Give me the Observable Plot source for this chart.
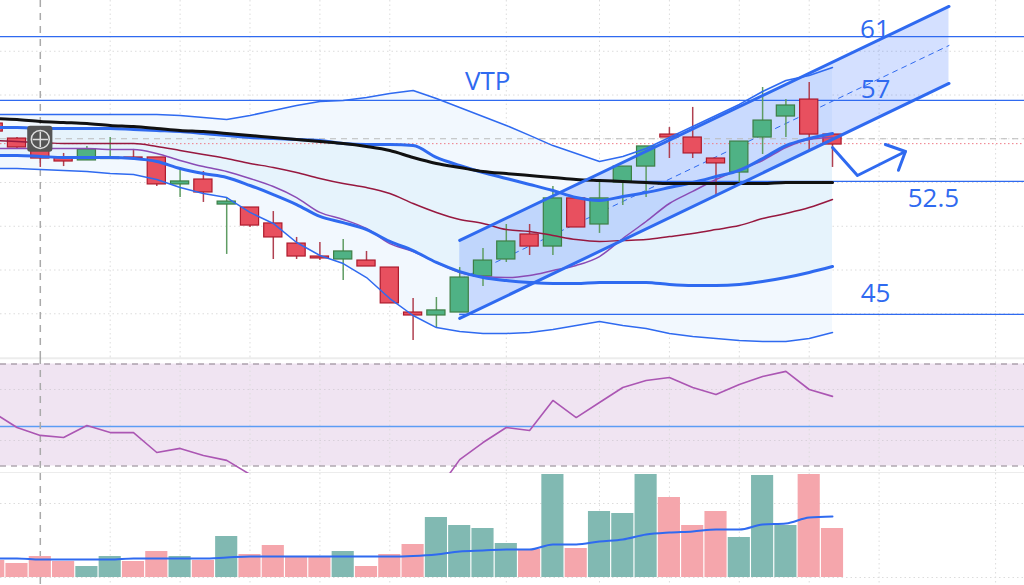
<!DOCTYPE html>
<html><head><meta charset="utf-8">
<script src="https://cdn.jsdelivr.net/npm/d3@7"></script>
<script src="https://cdn.jsdelivr.net/npm/@observablehq/plot@0.6"></script>
<style>html,body{margin:0;padding:0;background:#fff;overflow:hidden}svg{display:block}#c{width:1024px;height:585px}</style>
</head><body><div id="c"></div>
<script>
const idx = d3.range(-1, 36);
const candleOpen  = [55.87,55.01,54.90,53.93,53.76,53.84,53.93,53.93,52.39,52.67,51.24,51.07,50.16,49.01,48.27,48.10,48.04,47.64,45.07,44.90,45.07,47.13,48.10,49.53,48.84,51.59,50.10,52.50,53.41,55.24,55.07,53.87,53.07,55.07,56.27,57.24,55.24];
const candleClose = [55.41,54.50,53.87,53.70,54.39,53.93,53.87,52.39,52.56,51.93,51.41,50.04,49.36,48.27,48.16,48.56,47.70,45.59,44.90,45.19,47.07,48.04,49.13,48.84,51.59,49.93,51.59,53.41,54.56,55.07,54.16,53.59,54.84,56.04,56.90,55.24,54.67];
const candleHigh  = [56.04,55.07,54.90,54.16,54.56,55.07,54.39,53.93,53.30,53.13,51.64,51.07,50.84,49.36,49.07,49.24,48.56,47.64,45.87,45.93,47.64,48.73,50.10,50.10,52.27,51.59,52.56,53.41,54.56,55.64,56.79,53.87,54.84,57.93,57.24,58.21,55.24];
const candleLow   = [55.30,54.44,53.36,53.41,53.76,53.81,53.76,52.27,51.64,51.36,48.39,49.93,48.10,48.10,48.04,46.90,47.70,45.59,43.47,44.21,45.07,46.56,47.93,48.33,48.33,49.93,49.59,51.19,51.64,53.87,53.87,51.70,52.44,54.10,55.07,54.21,53.36];

const bandUpper = [56.39,56.39,56.39,56.39,56.39,56.39,56.39,56.39,56.33,56.21,56.10,56.33,56.61,56.90,57.13,57.19,57.36,57.59,57.76,57.30,56.79,56.27,55.76,55.19,54.61,54.16,53.70,53.99,54.44,55.07,55.70,56.33,56.96,57.70,58.33,58.61,59.07];
const bandLower = [53.30,53.30,53.24,53.19,53.13,53.01,52.96,52.67,52.21,51.87,51.64,50.79,50.16,49.07,48.33,47.87,47.07,45.87,44.90,44.21,43.99,43.87,43.87,43.93,44.10,44.33,44.56,44.33,44.16,43.87,43.70,43.59,43.47,43.41,43.41,43.59,43.93];
const thickUpper = [55.64,55.64,55.59,55.59,55.59,55.59,55.53,55.47,55.41,55.30,55.19,55.07,55.01,54.96,54.90,54.73,54.67,54.67,54.61,53.93,53.47,53.07,52.73,52.39,52.04,51.64,51.47,51.70,51.93,52.21,52.50,52.84,53.19,53.87,54.61,55.01,55.30];
const thickLower = [54.04,54.04,53.99,53.93,53.93,53.93,53.87,53.70,53.30,53.01,52.79,52.33,51.81,51.24,50.56,50.21,49.81,49.13,48.61,47.93,47.41,47.07,46.90,46.79,46.73,46.73,46.79,46.79,46.79,46.67,46.61,46.61,46.67,46.84,47.07,47.36,47.70];
const purpleLine = [54.44,54.44,54.44,54.44,54.44,54.39,54.39,54.16,53.76,53.41,53.13,52.73,52.27,51.64,50.79,50.39,49.87,49.01,48.56,47.93,47.36,47.13,47.07,47.19,47.47,47.76,48.27,49.30,50.27,51.30,51.99,52.67,53.24,53.76,54.50,54.96,55.07];
const crimsonLine = [54.90,54.84,54.79,54.73,54.73,54.73,54.73,54.56,54.33,54.10,53.87,53.59,53.36,53.07,52.73,52.44,52.21,51.87,51.30,50.79,50.39,50.16,49.81,49.70,49.47,49.24,49.13,49.19,49.24,49.41,49.59,49.81,50.04,50.44,50.73,51.07,51.53];
const blackLine = [56.16,56.10,55.99,55.93,55.87,55.76,55.70,55.59,55.47,55.41,55.30,55.19,55.07,54.96,54.84,54.73,54.56,54.33,53.93,53.59,53.36,53.13,53.01,52.90,52.79,52.67,52.61,52.56,52.50,52.44,52.44,52.44,52.44,52.44,52.50,52.50,52.50];

const rsi = [50.9,45.1,42.0,41.2,45.9,43.1,43.1,35.3,36.9,34.1,32.2,26.7,22,20,18,19,18,14,14,19.8,32.5,39.2,45.1,43.9,55.7,49.0,54.9,60.8,63.5,64.7,60.8,58.0,62.0,65.1,67.1,60.0,57.3];
const volume = [170,140,210,160,110,210,160,260,210,170,410,230,320,210,210,260,110,230,330,600,520,490,340,280,1030,290,660,640,1030,800,520,660,400,1020,520,1030,490];
const volumeAvg = [190,190,180,180,180,180,190,190,190,190,200,210,210,210,210,210,210,210,215,230,260,270,280,280,330,330,360,380,430,450,460,480,480,530,540,600,610];

const gridDays = [4,7,10,13,16,21,25,28,31,34,37,42];
const crossDay = 1;
const priceGrid = [45,47.5,50,52.5,55,57.5,60];
const levelRows = [{v:60.84,from:-1,to:44},{v:57.19,from:-1,to:44},{v:52.56,from:25,to:44},{v:44.96,from:19,to:44}];
const labelRows = [{t:"VTP",x:20.2,y:58.27},{t:"61",x:36.82,y:61.24},{t:"57",x:36.85,y:57.81},{t:"52.5",x:39.33,y:51.59},{t:"45",x:36.85,y:46.16}];
const channelX = [19,40];
const channelTop = [49.19,62.56];
const channelBottom = [44.73,58.16];
const channelMid = [46.96,60.33];
const arrowX = [35,36.07,38.13], arrowY = [54.5,52.9,54.27];
const headX = [37.27,38.13,37.83], headY = [54.67,54.27,53.2];
const rsiBand = [30,70], rsiGrid = [40,60], rsiLevel = 45.5;

const colors = {blue:"#2f6af0",green:"#4fb285",greenEdge:"#3d7f45",greenWick:"#5f9c63",red:"#e8505f",redEdge:"#ad1a2c",redWick:"#b04050",
  volGreen:"#81b9b2",volRed:"#f5a6ac",fillLight:"#f2f8fe",fillDark:"#e6f3fc",channel:"#2962ff",grid:"#dcdcdc"};
const xCfg = {domain:[-0.708,43.24],range:[0,1024],axis:null};
const base = {width:1024,margin:0,style:{background:"transparent"}};
const vGrid = Plot.ruleX(gridDays,{stroke:colors.grid,strokeDasharray:"1.5,3",strokeWidth:1});
const cross = Plot.ruleX([crossDay],{stroke:"#aaa",strokeDasharray:"7,6",strokeWidth:1.5});
const smooth = "monotone-x";

const candles = idx.map((i,k)=>({i,o:candleOpen[k],c:candleClose[k],h:candleHigh[k],l:candleLow[k],up:candleClose[k]>candleOpen[k]}));

const main = Plot.plot({...base,height:357,x:xCfg,y:{domain:[62.9,42.5],range:[0,357],axis:null},marks:[
  Plot.ruleY(priceGrid,{stroke:colors.grid,strokeDasharray:"1.5,3"}),
  vGrid,
  Plot.areaY(idx,{x:idx,y1:bandUpper,y2:bandLower,fill:colors.fillLight,curve:smooth}),
  Plot.areaY(idx,{x:idx,y1:thickUpper,y2:thickLower,fill:colors.fillDark,curve:smooth}),
  Plot.areaY(channelX,{x:channelX,y1:channelTop,y2:channelBottom,fill:colors.channel,fillOpacity:0.2}),
  Plot.ruleY(levelRows,{y:"v",x1:"from",x2:"to",stroke:colors.blue,strokeWidth:1.2}),
  Plot.ruleY([55],{stroke:"#bbb",strokeDasharray:"6,5",strokeWidth:1.2}),
  Plot.ruleY([54.72],{stroke:"#ef7a86",strokeDasharray:"1.5,2.5",strokeWidth:1}),
  cross,
  Plot.lineY(channelMid,{x:channelX,stroke:colors.blue,strokeWidth:1,strokeDasharray:"5,5"}),
  Plot.ruleX(candles,{x:"i",y1:"l",y2:"h",stroke:d=>d.up?colors.greenWick:colors.redWick,strokeWidth:1.5}),
  Plot.rect(candles,{x1:d=>d.i-0.39,x2:d=>d.i+0.39,y1:"o",y2:"c",fill:d=>d.up?colors.green:colors.red,stroke:d=>d.up?colors.greenEdge:colors.redEdge,strokeWidth:1.2}),
  Plot.lineY(crimsonLine,{x:idx,stroke:"#97183f",strokeWidth:1.5,curve:smooth}),
  Plot.lineY(purpleLine,{x:idx,stroke:"#8a4bb5",strokeWidth:1.5,curve:smooth}),
  Plot.lineY(bandUpper,{x:idx,stroke:colors.blue,strokeWidth:1.5}),
  Plot.lineY(bandLower,{x:idx,stroke:colors.blue,strokeWidth:1.5}),
  Plot.lineY(thickUpper,{x:idx,stroke:colors.blue,strokeWidth:3,curve:smooth}),
  Plot.lineY(thickLower,{x:idx,stroke:colors.blue,strokeWidth:3,curve:smooth}),
  Plot.lineY(blackLine,{x:idx,stroke:"#111",strokeWidth:3,curve:smooth}),
  Plot.lineY(channelTop,{x:channelX,stroke:colors.blue,strokeWidth:3}),
  Plot.lineY(channelBottom,{x:channelX,stroke:colors.blue,strokeWidth:3}),
  Plot.lineY(arrowY,{x:arrowX,stroke:colors.blue,strokeWidth:3}),
  Plot.lineY(headY,{x:headX,stroke:colors.blue,strokeWidth:3}),
  Plot.rect([crossDay],{x1:d=>d-0.54,x2:d=>d+0.54,y1:55.71,y2:54.23,fill:"#555",rx:3}),
  Plot.dot([crossDay],{x:d=>d,y:[54.96],r:9,stroke:"#ddd",strokeWidth:1.5,fill:"none"}),
  Plot.dot([crossDay],{x:d=>d,y:[54.96],r:5,symbol:"plus",stroke:"#ddd",strokeWidth:1.5}),
  Plot.text(labelRows,{x:"x",y:"y",text:"t",fill:colors.blue,fontSize:26,fontFamily:"Open Sans, sans-serif"})
]});

const rsiPanel = Plot.plot({...base,height:116,x:xCfg,y:{domain:[72.55,27.06],range:[0,116],axis:null},marks:[
  Plot.rectY([0],{x1:-2,x2:44,y1:rsiBand[0],y2:rsiBand[1],fill:"#f0e4f2"}),
  Plot.ruleY(rsiGrid,{stroke:"#d8d0da",strokeDasharray:"1.5,3"}),
  vGrid,
  Plot.ruleY(rsiBand,{stroke:"#8a7f8a",strokeDasharray:"6,5",strokeWidth:1.2}),
  Plot.ruleY([rsiLevel],{stroke:"#5b9cf5",strokeWidth:1.5}),
  Plot.ruleY([72.3,27.25],{stroke:"#ececec",strokeWidth:2}),
  cross,
  Plot.lineY(rsi,{x:idx,stroke:"#ab56b3",strokeWidth:1.6,clip:true})
]});

const volPanel = Plot.plot({...base,height:112,x:xCfg,y:{domain:[1040,-80],range:[0,112],axis:null},marks:[
  Plot.ruleY([740],{stroke:colors.grid,strokeDasharray:"1.5,3"}),
  Plot.ruleY([0],{stroke:colors.grid,strokeDasharray:"1.5,3"}),
  vGrid,
  cross,
  Plot.rect(candles.map((d,k)=>({...d,v:volume[k]})),{x1:d=>d.i-0.475,x2:d=>d.i+0.475,y1:0,y2:"v",fill:d=>d.up?colors.volGreen:colors.volRed}),
  Plot.lineY(volumeAvg,{x:idx,stroke:colors.blue,strokeWidth:2,curve:smooth})
]});

const c = document.getElementById("c");
c.append(main,rsiPanel,volPanel);
</script></body></html>
